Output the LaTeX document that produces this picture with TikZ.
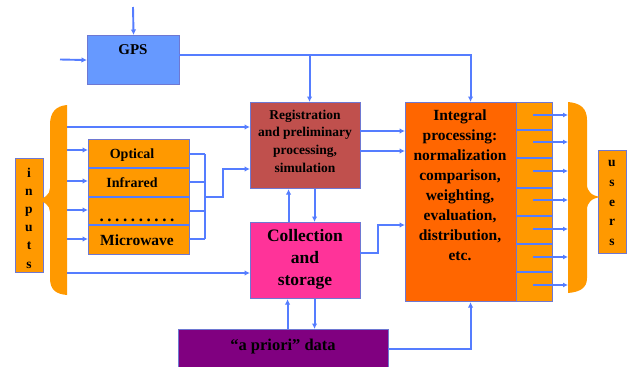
\documentclass[tikz,border=0pt]{standalone}
\usepackage{fontspec}
\setmainfont{Liberation Serif}
\usetikzlibrary{arrows.meta,calc}
\definecolor{bl}{RGB}{85,125,255}
\definecolor{gpsc}{RGB}{102,153,255}
\definecolor{regc}{RGB}{192,80,77}
\definecolor{colc}{RGB}{255,51,153}
\definecolor{igc}{RGB}{255,102,0}
\definecolor{orc}{RGB}{255,153,0}
\definecolor{apc}{RGB}{128,0,128}
\definecolor{edge}{RGB}{110,120,210}
\begin{document}
\begin{tikzpicture}[x=1pt,y=-1pt,
  box/.style={draw=edge, line width=1.1pt, inner sep=0pt, anchor=north west},
  conn/.style={draw=bl, line width=1.9pt, -{Latex[length=5.5pt,width=5.5pt]}},
  ln/.style={draw=bl, line width=1.9pt},
  thin/.style={draw=bl, line width=1.1pt},
  txt/.style={inner sep=0pt, align=center, font=\bfseries}]
\useasboundingbox (0,0) rectangle (630,367);

% boxes
\node[box, fill=gpsc, minimum width=92pt, minimum height=49pt] (gps) at (87,35) {};
\node[box, fill=orc, minimum width=28pt, minimum height=114pt] (inp) at (15,158) {};
\node[box, fill=orc, minimum width=101pt, minimum height=115pt] (sens) at (88,139) {};
\node[box, fill=regc, minimum width=110pt, minimum height=86pt] (reg) at (250,102) {};
\node[box, fill=colc, minimum width=110pt, minimum height=76pt] (col) at (250,222) {};
\node[box, fill=igc, minimum width=111pt, minimum height=199pt] (ig) at (405,102) {};
\node[box, fill=orc, minimum width=36pt, minimum height=199pt] (strip) at (516,102) {};
\node[box, fill=apc, minimum width=210pt, minimum height=45pt] (apr) at (178,329) {};
\node[box, fill=orc, minimum width=28pt, minimum height=103pt] (usr) at (598,150) {};

% sensor dividers
\foreach \yy in {168,197,225} \draw[thin] (88,\yy) -- (189,\yy);
% strip dividers
\foreach \yy in {130,158,188,216,244,272} \draw[thin] (516,\yy) -- (552,\yy);

% braces
\fill[orc] (67,105) .. controls (56,106) and (50,112) .. (50,125) -- (50,188)
  .. controls (50,195) and (44,199) .. (35,200) .. controls (44,201) and (50,205) .. (50,212)
  -- (50,278) .. controls (50,290) and (56,294) .. (67,295) -- cycle;
\fill[orc] (568,102) .. controls (580,103) and (587,108) .. (587,120) -- (587,184)
  .. controls (587,192) and (592,196) .. (601,197) .. controls (592,198) and (587,202) .. (587,210)
  -- (587,278) .. controls (587,288) and (580,292) .. (568,293) -- cycle;

% coordinates
\coordinate (gtop) at (133,7);
\coordinate (gleft) at (60,59.5);
\coordinate (g1) at (179,55);
\coordinate (b0) at (67,127);
\coordinate (b1) at (67,150);
\coordinate (b2) at (67,181);
\coordinate (b3) at (67,210);
\coordinate (b4) at (67,239);
\coordinate (b5) at (67,273);
\coordinate (s1) at (189,154);
\coordinate (s2) at (189,182);
\coordinate (s3) at (189,211);
\coordinate (s4) at (189,239);
\coordinate (sj) at (205,197);
\coordinate (sk) at (223,169);
\coordinate (r1) at (360,131);
\coordinate (r2) at (360,151);
\coordinate (c1) at (360,253);
\coordinate (ck) at (378,225);
\coordinate (a1) at (388,349);

% GPS
\draw[conn] (gtop) -- (gps.north);
\draw[conn] (gleft) -- (gps.west);
\draw[conn] (g1) -| ([xshift=4pt]reg.north);
\draw[conn] (g1) -| ([xshift=9.5pt]ig.north);

% brace arrows
\draw[conn] (b0) -- (b0 -| reg.west);
\foreach \c in {b1,b2,b3,b4} \draw[conn] (\c) -- (\c -| sens.west);
\draw[conn] (b5) -- (b5 -| col.west);

% sensor outputs
\foreach \c in {s1,s2,s3,s4} \draw[ln] (\c) -- (\c -| sj);
\draw[ln] (s1 -| sj) -- (s4 -| sj);
\draw[conn] (sj) -| (sk) -- (sk -| reg.west);

% reg <-> col
\draw[conn] ([xshift=-17pt]col.north) -- ([xshift=-17pt]reg.south);
\draw[conn] ([xshift=9pt]reg.south) -- ([xshift=9pt]col.north);
% reg -> ig
\draw[conn] (r1) -- (r1 -| ig.west);
\draw[conn] (r2) -- (r2 -| ig.west);
% col -> ig
\draw[conn] (c1) -| (ck) -- (ck -| ig.west);
% apriori <-> col
\draw[conn] ([xshift=-18pt]apr.north -| col.south) -- ([xshift=-18pt]col.south);
\draw[conn] ([xshift=9pt]col.south) -- ([xshift=9pt]col.south |- apr.north);
% apriori -> ig
\draw[conn] (a1) -| ([xshift=9.5pt]ig.south);

% strip arrows
\foreach \yy in {115,142,171,200,229,257,285} \draw[draw=bl, line width=1.3pt, -{Latex[length=5pt,width=5pt]}] (533,\yy) -- (568,\yy);

% texts
\node[txt, font=\bfseries\fontsize{15}{18}\selectfont] (tg) at (133,50) {GPS};
\node[txt, font=\bfseries\fontsize{13.5}{17.7}\selectfont] (tr) at (305,141) {Registration\\and preliminary\\processing,\\simulation};
\node[txt, font=\bfseries\fontsize{17.5}{22}\selectfont] (tc) at (305,259) {Collection\\and\\storage};
\node[txt, font=\bfseries\fontsize{15.5}{20}\selectfont] (ti) at (460,185) {Integral\\processing:\\normalization\\comparison,\\weighting,\\evaluation,\\distribution,\\etc.};
\node[txt, font=\bfseries\fontsize{16.5}{18}\selectfont] (ta) at (283,347) {“a priori” data};
\node[txt, font=\bfseries\fontsize{14}{16}\selectfont] (to) at (132,155) {Optical};
\node[txt, font=\bfseries\fontsize{14}{16}\selectfont] (tf) at (132,183) {Infrared};
\node[txt, font=\bfseries\fontsize{17}{16}\selectfont] (td) at (137,220) {.\hspace{3.6pt}.\hspace{3.6pt}.\hspace{3.6pt}.\hspace{3.6pt}.\hspace{3.6pt}.\hspace{3.6pt}.\hspace{3.6pt}.\hspace{3.6pt}.\hspace{3.6pt}.};
\node[txt, font=\bfseries\fontsize{15.5}{16}\selectfont] (tm) at (137,240) {Microwave};
\node[txt, font=\bfseries\fontsize{13.5}{18.2}\selectfont] (tin) at (29,218) {i\\n\\p\\u\\t\\s};
\node[txt, font=\bfseries\fontsize{13.5}{19.8}\selectfont] (tus) at (612,203) {u\\s\\e\\r\\s};
\end{tikzpicture}
\end{document}
